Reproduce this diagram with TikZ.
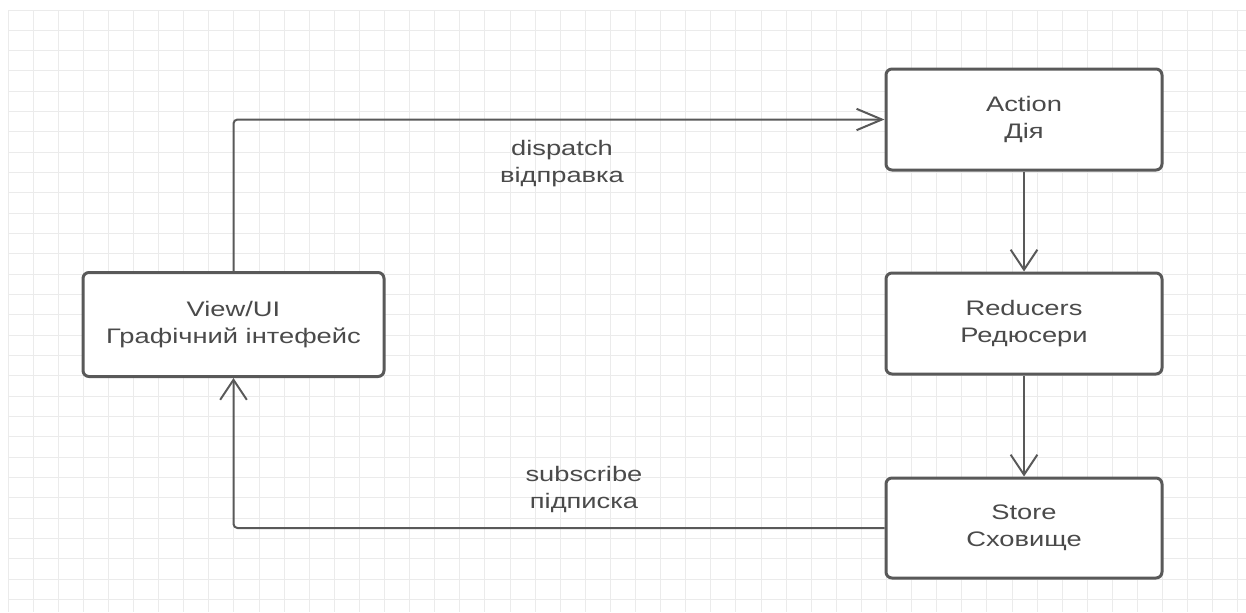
\documentclass[tikz,border=0pt]{standalone}
\usepackage{fontspec}
\setmainfont{Liberation Sans}[FakeStretch=1.3]
\usetikzlibrary{arrows.meta}

\definecolor{gridgray}{HTML}{EBEBEB}
\definecolor{linegray}{HTML}{595959}
\definecolor{textgray}{HTML}{4A4A4A}

\tikzset{
  box/.style={draw=linegray, line width=2.25pt, rounded corners=4.5pt, fill=white,
    align=center, text=textgray, inner sep=0pt,
    font=\fontsize{15.75}{20.25}\selectfont},
  lab/.style={align=center, text=textgray, inner sep=0pt,
    font=\fontsize{15.75}{20.25}\selectfont},
  flow/.style={draw=linegray, line width=1.5pt, rounded corners=3pt,
    -{Straight Barb[length=15pt,width=20pt,line width=1.5pt]}},
  gridline/.style={draw=gridgray, line width=0.75pt}
}

\begin{document}
\begin{tikzpicture}[x=0.75pt,y=-0.75pt]
  \useasboundingbox[fill=white] (0,0) rectangle (1246,612);

  % background grid
  \foreach \i in {0,...,49}
    \draw[gridline] ({8+25.1*\i},10) -- ({8+25.1*\i},612);
  \foreach \j in {0,...,29}
    \draw[gridline] (8,{10+20.33*\j}) -- (1246,{10+20.33*\j});

  % boxes
  \node[box, minimum width=225.75pt, minimum height=78pt] (view) at (233.5,324.5) {View/UI\\Графічний інтефейс};
  \node[box, minimum width=207pt, minimum height=75.75pt] (action) at (1024,119.5) {Action\\Дія};
  \node[box, minimum width=207pt, minimum height=75.75pt] (reducers) at (1024,323.5) {Reducers\\Редюсери};
  \node[box, minimum width=207pt, minimum height=75pt] (store) at (1024,528) {Store\\Сховище};

  % connectors
  \draw[flow, -{Straight Barb[length=19pt,width=16pt,line width=1.5pt]}] (view.north) |- (action.west);
  \draw[flow] (action) -- (reducers);
  \draw[flow] (reducers) -- (store);
  \draw[flow] (store.west) -| (view.south);

  % labels
  \node[lab] (dispatchlab) at (562,164) {dispatch\\відправка};
  \node[lab] (subscribelab) at (584,489) {subscribe\\підписка};
\end{tikzpicture}
\end{document}
